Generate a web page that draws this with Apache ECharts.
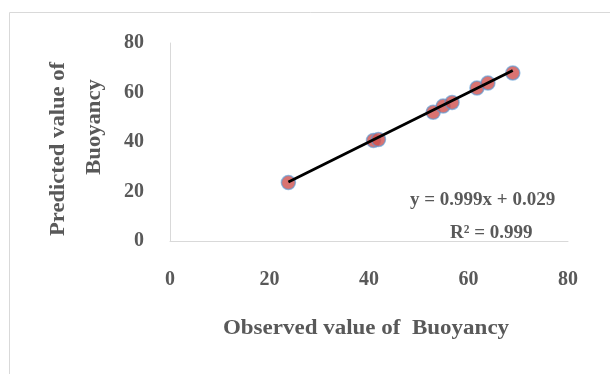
<!DOCTYPE html>
<html><head><meta charset="utf-8">
<script src="https://cdn.jsdelivr.net/npm/echarts@6/dist/echarts.min.js"></script>
<style>html,body{margin:0;padding:0;background:#fff}#c{width:610px;height:374px}</style>
</head><body><div id="c"></div>
<script>
var observed = [23.8, 40.9, 41.9, 52.9, 54.9, 56.7, 61.7, 63.9, 68.9];
var predicted = [23.6, 40.6, 41.0, 52.0, 54.5, 56.0, 61.8, 63.8, 67.9];
var axisTicks = [0, 20, 40, 60, 80];
var slope = 0.999, intercept = 0.029;
var eqText = 'y = 0.999x + 0.029';
var r2Text = 'R² = 0.999';
var xTitle = 'Observed value of  Buoyancy';
var yTitle1 = 'Predicted value of';
var yTitle2 = 'Buoyancy';

var pts = observed.map(function(x,i){return [x, predicted[i]];});
var xmin = Math.min.apply(null, observed), xmax = Math.max.apply(null, observed);
var trend = [[xmin, slope*xmin+intercept],[xmax, slope*xmax+intercept]];
var font = 'Liberation Serif';
var gray = '#595959';
var tf = 'bold 20px "Liberation Serif"';
var chart = echarts.init(document.getElementById('c'));
chart.setOption({
  animation:false,
  graphic:[
    {type:'rect', shape:{x:9.5,y:12.5,width:640,height:400}, style:{fill:'none',stroke:'#d9d9d9',lineWidth:1}, silent:true},
    {type:'text', x:410, y:200, style:{text:eqText, font:'bold 19px "Liberation Serif"', fill:gray, verticalAlign:'middle'}},
    {type:'text', x:450, y:233, style:{text:r2Text, font:'bold 19px "Liberation Serif"', fill:gray, verticalAlign:'middle'}},
    {type:'text', x:366, y:329, scaleX:1.15, style:{text:xTitle, font:tf, fill:gray, align:'center', verticalAlign:'middle'}},
    {type:'text', x:59, y:149, scaleX:1.13, rotation:Math.PI/2, style:{text:yTitle1, font:tf, fill:gray, align:'center', verticalAlign:'middle'}},
    {type:'text', x:95, y:127, scaleX:1.13, rotation:Math.PI/2, style:{text:yTitle2, font:tf, fill:gray, align:'center', verticalAlign:'middle'}}
  ],
  grid:{left:170, right:42, top:43, bottom:133},
  xAxis:{type:'value', min:axisTicks[0], max:axisTicks[axisTicks.length-1], interval:20,
    axisLine:{show:true, onZero:false, lineStyle:{color:'#d9d9d9'}}, axisTick:{show:false}, splitLine:{show:false},
    axisLabel:{margin:29, color:gray, fontFamily:font, fontWeight:'bold', fontSize:20}},
  yAxis:{type:'value', min:axisTicks[0], max:axisTicks[axisTicks.length-1], interval:20,
    axisLine:{show:true, onZero:false, lineStyle:{color:'#d9d9d9'}}, axisTick:{show:false}, splitLine:{show:false},
    axisLabel:{margin:26, color:gray, fontFamily:font, fontWeight:'bold', fontSize:20}},
  series:[
    {type:'scatter', data:pts, symbolSize:14, itemStyle:{color:'#d0504d', borderColor:'rgba(91,155,213,0.8)', borderWidth:1.5}, z:2},
    {type:'line', data:trend, symbol:'none', lineStyle:{color:'#000', width:2.8}, z:3}
  ]
});
</script></body></html>
